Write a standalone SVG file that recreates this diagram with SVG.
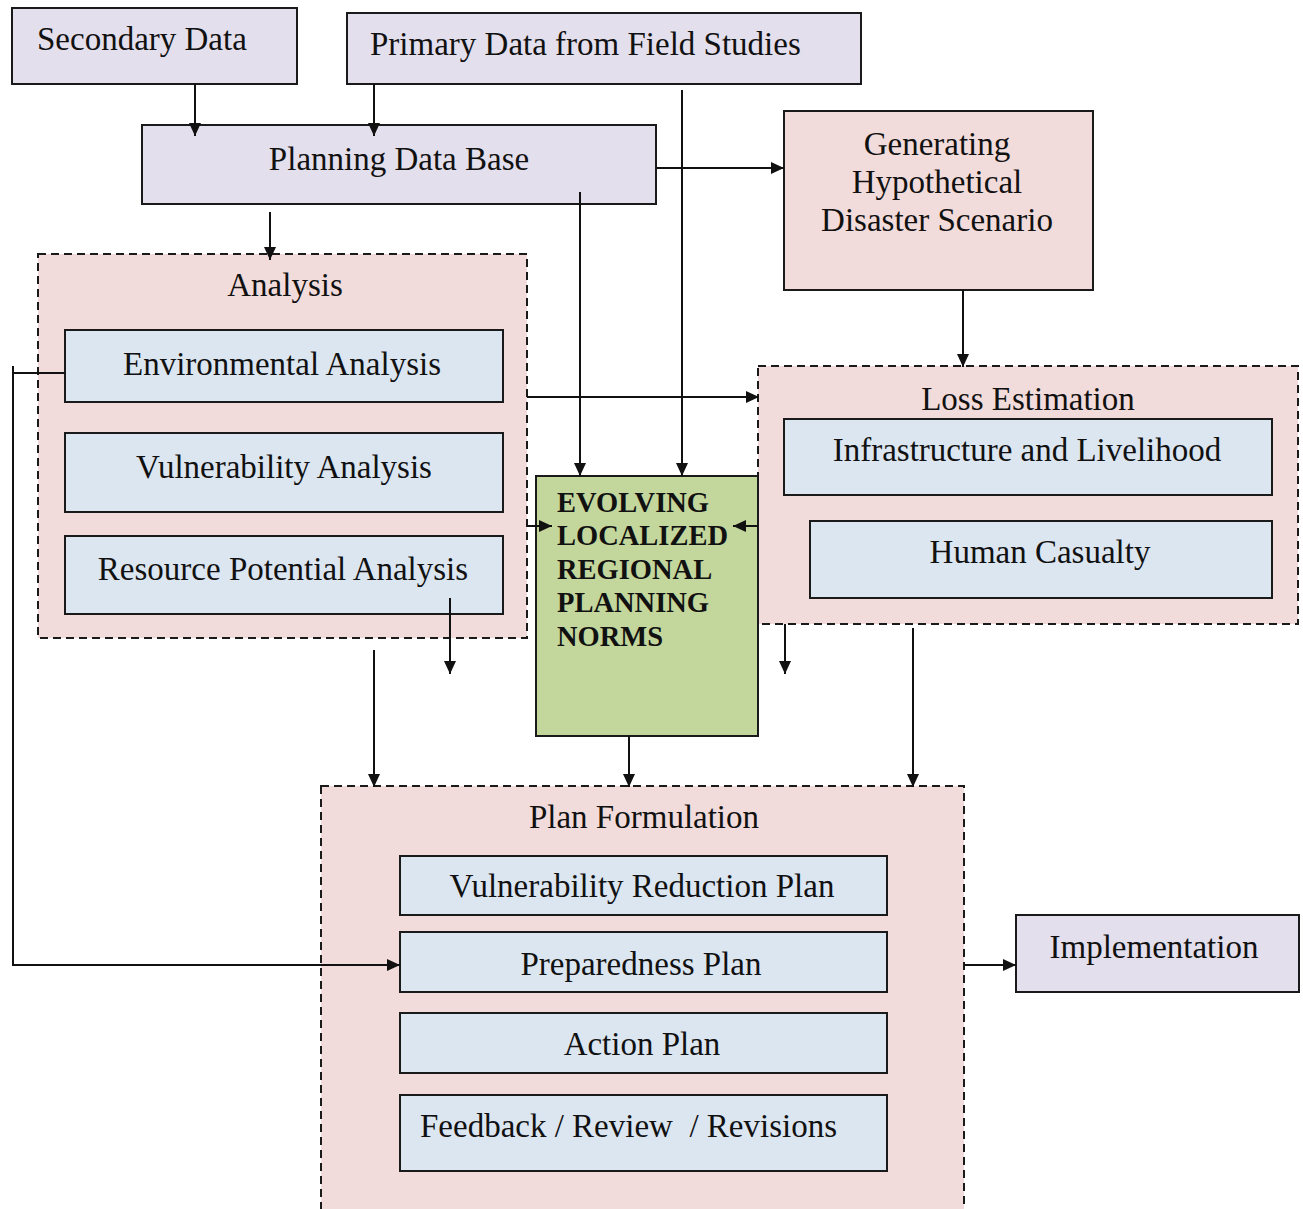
<svg xmlns="http://www.w3.org/2000/svg" width="1303" height="1209" viewBox="0 0 1303 1209">
<style>
.box{stroke:#1a1a1a;stroke-width:2}
.lav{fill:#E4DFEC}
.pink{fill:#F2DCDB}
.blue{fill:#DCE6F1}
.green{fill:#C3D69B}
.dash{stroke:#1a1a1a;stroke-width:2;stroke-dasharray:8 5;fill:#F2DCDB}
text{font-family:"Liberation Serif","Times New Roman",serif;font-size:33px;fill:#111}
.c{text-anchor:middle}
.b{font-weight:bold;font-size:28.5px}
.ln{stroke:#111;stroke-width:2;fill:none}
</style>
<defs>
<marker id="ah" viewBox="0 0 13 12" refX="13" refY="6" markerWidth="13" markerHeight="12" markerUnits="userSpaceOnUse" orient="auto">
<path d="M0,0 L13,6 L0,12 z" fill="#111"/>
</marker>
</defs>
<rect width="1303" height="1209" fill="#fff"/>

<g id="secondary-data"><rect class="box lav" x="12" y="8" width="285" height="76"/><text x="37" y="50">Secondary Data</text></g>
<g id="primary-data"><rect class="box lav" x="347" y="13" width="514" height="71"/><text x="370" y="55">Primary Data from Field Studies</text></g>
<g id="planning-data-base"><rect class="box lav" x="142" y="125" width="514" height="79"/><text class="c" x="399" y="170">Planning Data Base</text></g>
<g id="generating"><rect class="box pink" x="784" y="111" width="309" height="179"/><text class="c" x="937" y="155">Generating</text><text class="c" x="937" y="193">Hypothetical</text><text class="c" x="937" y="231">Disaster  Scenario</text></g>

<g id="analysis"><rect class="dash" x="38" y="254" width="489" height="384"/><text class="c" x="285" y="296">Analysis</text>
<g id="environmental-analysis"><rect class="box blue" x="65" y="330" width="438" height="72"/><text class="c" x="282" y="375">Environmental Analysis</text></g>
<g id="vulnerability-analysis"><rect class="box blue" x="65" y="433" width="438" height="79"/><text class="c" x="284" y="478">Vulnerability Analysis</text></g>
<g id="resource-potential-analysis"><rect class="box blue" x="65" y="536" width="438" height="78"/><text class="c" x="283" y="580">Resource Potential Analysis</text></g>
</g>

<g id="loss-estimation"><rect class="dash" x="758" y="366" width="540" height="258"/><text class="c" x="1028" y="410">Loss Estimation</text>
<g id="infrastructure"><rect class="box blue" x="784" y="419" width="488" height="76"/><text class="c" x="1027" y="461">Infrastructure and Livelihood</text></g>
<g id="human-casualty"><rect class="box blue" x="810" y="521" width="462" height="77"/><text class="c" x="1040" y="563">Human Casualty</text></g>
</g>

<g id="norms"><rect class="box green" x="536" y="476" width="222" height="260"/>
<text class="b" x="557" y="512">EVOLVING</text><text class="b" x="557" y="545">LOCALIZED</text><text class="b" x="557" y="579">REGIONAL</text><text class="b" x="557" y="612">PLANNING</text><text class="b" x="557" y="646">NORMS</text></g>

<g id="plan-formulation"><rect class="dash" x="321" y="786" width="643" height="440"/><text class="c" x="644" y="828">Plan Formulation</text>
<g id="vulnerability-reduction-plan"><rect class="box blue" x="400" y="856" width="487" height="59"/><text class="c" x="642" y="897">Vulnerability Reduction  Plan</text></g>
<g id="preparedness-plan"><rect class="box blue" x="400" y="932" width="487" height="60"/><text class="c" x="641" y="975">Preparedness Plan</text></g>
<g id="action-plan"><rect class="box blue" x="400" y="1013" width="487" height="60"/><text class="c" x="642" y="1055">Action Plan</text></g>
<g id="feedback"><rect class="box blue" x="400" y="1095" width="487" height="76"/><text x="420" y="1137" xml:space="preserve">Feedback / Review  / Revisions</text></g>
</g>

<g id="implementation"><rect class="box lav" x="1016" y="915" width="283" height="77"/><text class="c" x="1154" y="958">Implementation</text></g>

<g id="connectors">
<line class="ln" x1="195" y1="84" x2="195" y2="136" marker-end="url(#ah)"/>
<line class="ln" x1="374" y1="84" x2="374" y2="136" marker-end="url(#ah)"/>
<line class="ln" x1="682" y1="90" x2="682" y2="476" marker-end="url(#ah)"/>
<line class="ln" x1="656" y1="168" x2="784" y2="168" marker-end="url(#ah)"/>
<line class="ln" x1="270" y1="212" x2="270" y2="260" marker-end="url(#ah)"/>
<line class="ln" x1="580" y1="192" x2="580" y2="476" marker-end="url(#ah)"/>
<line class="ln" x1="963" y1="290" x2="963" y2="367" marker-end="url(#ah)"/>
<line class="ln" x1="527" y1="397" x2="759" y2="397" marker-end="url(#ah)"/>
<line class="ln" x1="527" y1="526" x2="552" y2="526" marker-end="url(#ah)"/>
<line class="ln" x1="758" y1="526" x2="733" y2="526" marker-end="url(#ah)"/>
<polyline class="ln" points="65,373 13,373"/>
<polyline class="ln" points="13,366 13,965 400,965" marker-end="url(#ah)"/>
<line class="ln" x1="450" y1="598" x2="450" y2="674" marker-end="url(#ah)"/>
<line class="ln" x1="374" y1="650" x2="374" y2="787" marker-end="url(#ah)"/>
<line class="ln" x1="629" y1="736" x2="629" y2="787" marker-end="url(#ah)"/>
<line class="ln" x1="785" y1="624" x2="785" y2="674" marker-end="url(#ah)"/>
<line class="ln" x1="913" y1="628" x2="913" y2="787" marker-end="url(#ah)"/>
<line class="ln" x1="964" y1="965" x2="1016" y2="965" marker-end="url(#ah)"/>
</g>
</svg>
